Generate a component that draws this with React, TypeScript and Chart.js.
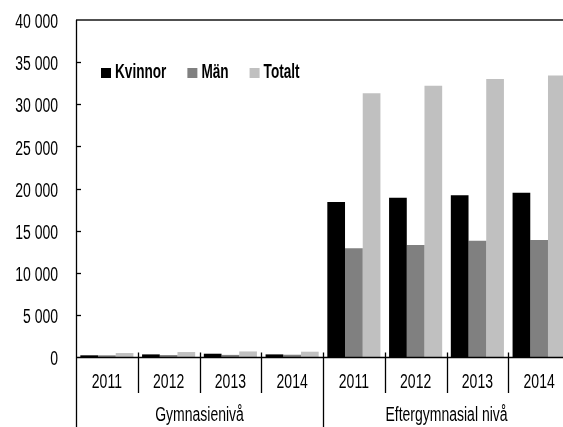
import React, { useEffect, useRef } from 'react';
import { Chart, registerables } from 'chart.js';

Chart.register(...registerables);

const years = ['2011', '2012', '2013', '2014', '2011', '2012', '2013', '2014'];
const groups = ['Gymnasienivå', 'Eftergymnasial nivå'];
const groupSize = 4;
const kvinnor = [200, 310, 390, 310, 18400, 18900, 19200, 19500];
const man = [200, 230, 250, 270, 12900, 13300, 13800, 13900];
const totalt = [470, 590, 660, 630, 31300, 32200, 33000, 33400];
const yTicks = [0, 5000, 10000, 15000, 20000, 25000, 30000, 35000, 40000];
const seriesNames = ['Kvinnor', 'Män', 'Totalt'];
const seriesColors = ['#000000', '#808080', '#c0c0c0'];

const FONT = '"Liberation Sans", Arial, sans-serif';
const SX = 0.7;
const SXB = 0.68;

function fmt(v: number): string {
  return String(v).replace(/\B(?=(\d{3})+(?!\d))/g, ' ');
}

function drawText(ctx: CanvasRenderingContext2D, text: string, x: number, y: number, align: CanvasTextAlign, sx: number) {
  ctx.save();
  ctx.translate(x, y);
  ctx.scale(sx, 1);
  ctx.textAlign = align;
  ctx.fillText(text, 0, 0);
  ctx.restore();
}

const customAxes = {
  id: 'customAxes',
  afterDraw(chart: any) {
    const { ctx, chartArea: a, scales } = chart;
    const xs = scales.x;
    const ys = scales.y;
    const H = chart.height;
    ctx.save();

    // top border
    ctx.strokeStyle = '#505050';
    ctx.lineWidth = 2;
    ctx.beginPath();
    ctx.moveTo(a.left, Math.round(ys.getPixelForValue(40000)));
    ctx.lineTo(a.right, Math.round(ys.getPixelForValue(40000)));
    ctx.stroke();

    ctx.strokeStyle = '#000000';
    ctx.lineWidth = 1.3;
    const ax = Math.round(a.left) + 0.5;
    ctx.beginPath();
    ctx.moveTo(ax, a.top);
    ctx.lineTo(ax, H);
    ctx.stroke();
    const by = Math.round(ys.getPixelForValue(0)) + 0.5;
    ctx.beginPath();
    ctx.moveTo(a.left, by);
    ctx.lineTo(a.right, by);
    ctx.stroke();

    ctx.fillStyle = '#000';
    ctx.font = `20px ${FONT}`;
    ctx.textBaseline = 'alphabetic';
    yTicks.forEach((v) => {
      const py = ys.getPixelForValue(v);
      if (v !== 0 && v !== 40000) {
        ctx.beginPath();
        ctx.moveTo(a.left, Math.round(py) + 0.5);
        ctx.lineTo(a.left + 5, Math.round(py) + 0.5);
        ctx.stroke();
      }
      drawText(ctx, fmt(v), 58, py + 8.2, 'right', SX);
    });

    const n = years.length;
    const cw = (a.right - a.left) / n;
    for (let i = 1; i <= n; i++) {
      const bx = Math.round(xs.getPixelForValue(i - 1) + cw / 2) + 0.5;
      const isGroup = i % groupSize === 0;
      ctx.beginPath();
      ctx.moveTo(bx, by - 5);
      ctx.lineTo(bx, isGroup ? H : 393);
      ctx.stroke();
    }

    years.forEach((lab, i) => {
      drawText(ctx, lab, xs.getPixelForValue(i), 388, 'center', SX);
    });
    groups.forEach((g, gi) => {
      const l = xs.getPixelForValue(gi * groupSize) - cw / 2;
      const r = xs.getPixelForValue(gi * groupSize + groupSize - 1) + cw / 2;
      drawText(ctx, g, (l + r) / 2, 421, 'center', SX);
    });

    ctx.font = `bold 20px ${FONT}`;
    let lx = 101;
    const ly = 68;
    seriesNames.forEach((name, i) => {
      ctx.fillStyle = seriesColors[i];
      ctx.fillRect(lx, ly, 10, 10);
      ctx.fillStyle = '#000';
      drawText(ctx, name, lx + 14, ly + 10, 'left', SXB);
      lx += 14 + ctx.measureText(name).width * SXB + 21;
    });

    ctx.restore();
  },
};

export default function App() {
  const ref = useRef<HTMLCanvasElement | null>(null);
  useEffect(() => {
    if (!ref.current) return;
    const chart = new Chart(ref.current, {
      type: 'bar',
      data: {
        labels: years,
        datasets: [
          { label: seriesNames[0], data: kvinnor, backgroundColor: seriesColors[0] },
          { label: seriesNames[1], data: man, backgroundColor: seriesColors[1] },
          { label: seriesNames[2], data: totalt, backgroundColor: seriesColors[2] },
        ],
      },
      options: {
        responsive: false,
        animation: false,
        devicePixelRatio: 1,
        layout: { padding: { left: 76, top: 20, right: 2, bottom: 70 } },
        datasets: { bar: { barPercentage: 1, categoryPercentage: 0.86 } },
        plugins: { legend: { display: false }, tooltip: { enabled: false } },
        scales: {
          x: { display: false, offset: true },
          y: { display: false, min: 0, max: 40000 },
        },
      },
      plugins: [customAxes],
    });
    return () => chart.destroy();
  }, []);
  return (
    <div style={{ position: 'fixed', left: 0, top: 0, width: 563, height: 427, overflow: 'hidden', background: '#fff' }}>
      <canvas ref={ref} width={572} height={427} style={{ width: 572, height: 427, display: 'block' }} />
    </div>
  );
}
